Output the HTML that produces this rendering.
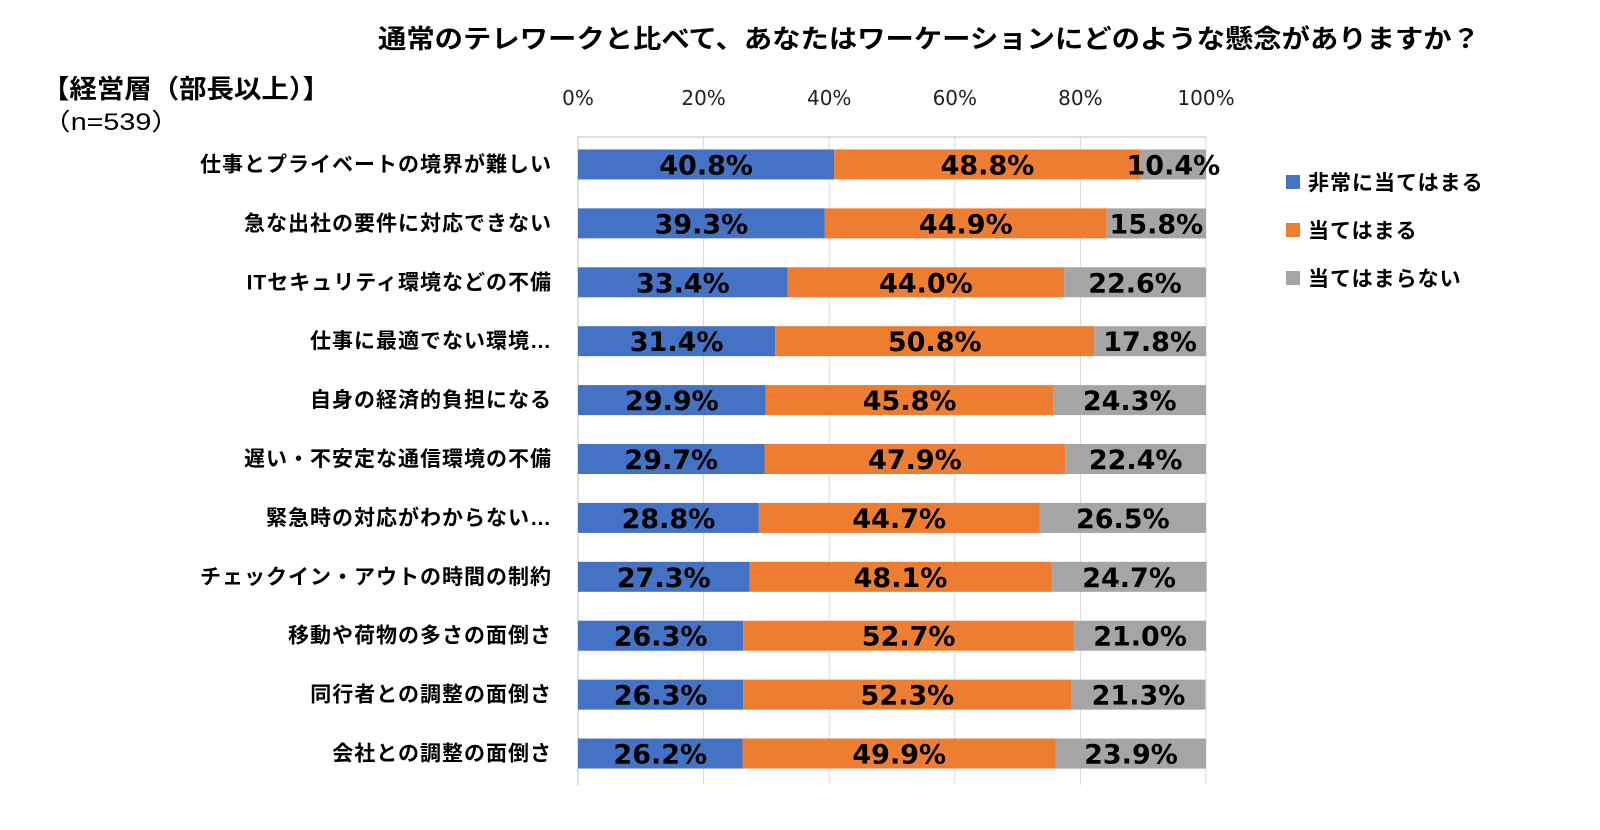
<!DOCTYPE html>
<html><head><meta charset="utf-8">
<style>
body{margin:0;background:#fff;width:1600px;height:825px;overflow:hidden;font-family:"Liberation Sans","Noto Sans CJK JP",sans-serif;}
svg text{font-family:"Liberation Sans","Noto Sans CJK JP",sans-serif;}
</style></head><body>
<svg id="chart" width="1600" height="825">
<text x="378" y="48" font-size="26" font-weight="bold" fill="#000" textLength="1102" lengthAdjust="spacingAndGlyphs">通常のテレワークと比べて、あなたはワーケーションにどのような懸念がありますか？</text>
<text x="42" y="98" font-size="26" font-weight="bold" fill="#000" textLength="288" lengthAdjust="spacingAndGlyphs">【経営層（部長以上）】</text>
<text x="42" y="130" font-size="24" fill="#000" textLength="138" lengthAdjust="spacingAndGlyphs">（n=539）</text>
<g id="grid"></g><g id="bars"></g><g id="labels"></g><g id="legend"></g>
</svg>
<script>
const categories=["仕事とプライベートの境界が難しい","急な出社の要件に対応できない","ITセキュリティ環境などの不備","仕事に最適でない環境…","自身の経済的負担になる","遅い・不安定な通信環境の不備","緊急時の対応がわからない…","チェックイン・アウトの時間の制約","移動や荷物の多さの面倒さ","同行者との調整の面倒さ","会社との調整の面倒さ"];
const seriesNames=["非常に当てはまる","当てはまる","当てはまらない"];
const s1=[40.8,39.3,33.4,31.4,29.9,29.7,28.8,27.3,26.3,26.3,26.2];
const s2=[48.8,44.9,44.0,50.8,45.8,47.9,44.7,48.1,52.7,52.3,49.9];
const s3=[10.4,15.8,22.6,17.8,24.3,22.4,26.5,24.7,21.0,21.3,23.9];
const ticks=[0,20,40,60,80,100];
const colors=["#4472C4","#ED7D31","#A5A5A5"];
const NS="http://www.w3.org/2000/svg";
const x0=578,x1=1206,top0=137,bot=785;
const xs=v=>x0+(x1-x0)*v/100;
const rowH=(bot-top0)/categories.length;
const yc=i=>top0+rowH*(i+0.5)-2;
function mk(tag,attrs,parent,txt){const e=document.createElementNS(NS,tag);for(const k in attrs)e.setAttribute(k,attrs[k]);if(txt!==undefined)e.textContent=txt;document.getElementById(parent).appendChild(e);return e;}
ticks.forEach(t=>{
 const l=mk('line',{x1:xs(t),x2:xs(t),y1:top0,y2:bot,stroke:'#d9d9d9','stroke-width':1},'grid');
 
 
 const tx=mk('text',{x:xs(t),y:105,'text-anchor':'middle',style:'font-family:"DejaVu Sans",sans-serif;font-size:20px',fill:'#222'},'grid',t+'%');
 
 
});
const ax=mk('line',{x1:x0,x2:x0,y1:top0,y2:bot,stroke:'#bfbfbf','stroke-width':1},'grid');


const axt=mk('line',{x1:x0,x2:x1,y1:top0,y2:top0,stroke:'#bfbfbf','stroke-width':1},'grid');


const series=[s1,s2,s3];
categories.forEach((c,i)=>{
 const cl=mk('text',{x:552,y:yc(i)+7,'text-anchor':'end','font-size':21,'font-weight':'bold',fill:'#000','letter-spacing':'1'},'labels',c);
 
 
 let acc=0;
 series.forEach((s,k)=>{
  const v=s[i];
  const r=mk('rect',{x:xs(acc),y:yc(i)-15,width:xs(acc+v)-xs(acc),height:30,fill:colors[k]},'bars');
  
  
  const t=mk('text',{x:(xs(acc)+xs(acc+v))/2,y:yc(i)+10,'text-anchor':'middle',style:'font-family:"DejaVu Sans",sans-serif;font-size:27px;font-weight:bold',fill:'#000'},'labels',v.toFixed(1)+'%');
  
  
  acc+=v;
 });
});
seriesNames.forEach((n,k)=>{
 const y=182+k*48;
 const r=mk('rect',{x:1286,y:y-7,width:14,height:14,fill:colors[k]},'legend');
 
 
 const t=mk('text',{x:1308,y:y+8,'font-size':21,'font-weight':'bold',fill:'#000','letter-spacing':'1'},'legend',n);
 
 
});
</script>
</body></html>
